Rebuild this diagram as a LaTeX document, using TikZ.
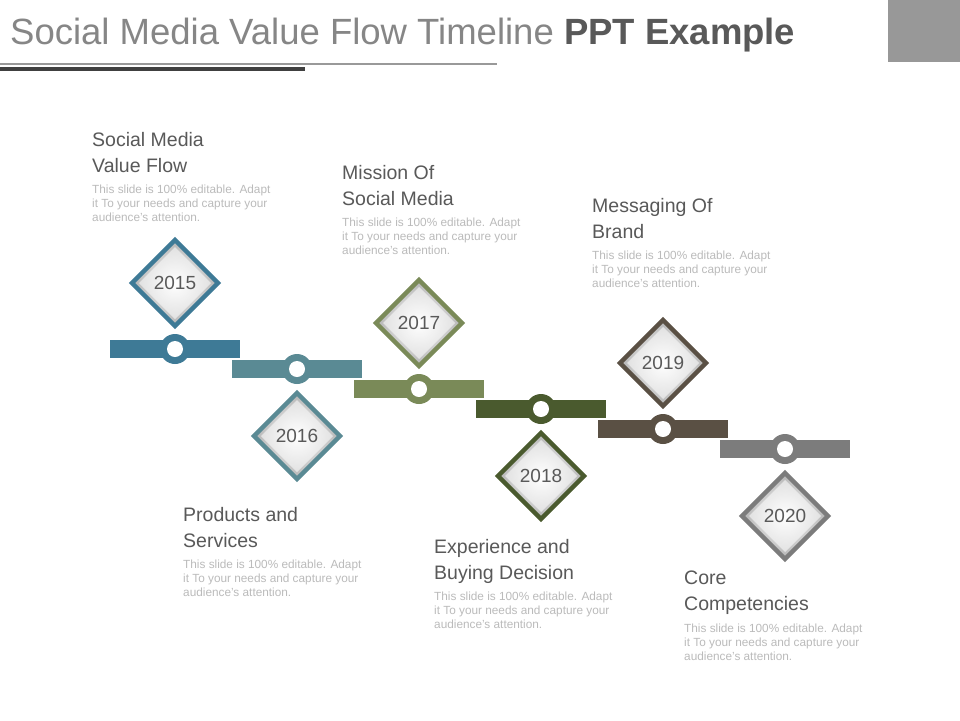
\documentclass[tikz,border=0pt]{standalone}
\usepackage{fontspec}
\setmainfont{Liberation Sans}
\definecolor{c1}{HTML}{3E7A96}
\definecolor{c2}{HTML}{5A8A94}
\definecolor{c3}{HTML}{7A8A58}
\definecolor{c4}{HTML}{4A5A2E}
\definecolor{c5}{HTML}{5A5044}
\definecolor{c6}{HTML}{7C7C7C}
\definecolor{ttl}{HTML}{595959}
\definecolor{body}{HTML}{BBBBBB}
\tikzset{
  headtxt/.style={anchor=north west,align=left,text=ttl,font=\fontsize{19.5}{26}\selectfont,inner sep=0pt},
  bodytxt/.style={anchor=north west,align=left,text=body,font=\fontsize{11.8}{14}\selectfont,inner sep=0pt},
  yeartxt/.style={text=ttl,font=\fontsize{19}{20}\selectfont}
}
\newcommand{\bodytext}{This slide is 100\% editable. Adapt\\it To your needs and capture your\\audience's attention.}
\newcommand{\stepitem}[5]{%
  \fill[#4] (#2-65,#3-9) rectangle (#2+65,#3+9);
  \path[shading=radial,inner color=white,outer color=gray!60,draw=#4,line width=4.5pt]
    (#2,#3+#5-43) -- (#2+43,#3+#5) -- (#2,#3+#5+43) -- (#2-43,#3+#5) -- cycle;
  \fill[white,opacity=0.55] (#2,#3+#5-36) -- (#2+36,#3+#5) -- (#2,#3+#5+36) -- (#2-36,#3+#5) -- cycle;
  \node[yeartxt] (#1) at (#2,#3+#5) {#1};
  \fill[#4] (#2,#3) circle (15);
  \fill[white] (#2,#3) circle (8);
}
\begin{document}
\begin{tikzpicture}[x=1pt,y=-1pt]
\useasboundingbox (0,0) rectangle (960,720);
\fill[white] (0,0) rectangle (960,720);
\fill[gray!85!black!70] (888,0) rectangle (960,62);
\node[anchor=base west,inner sep=0pt,text=gray!95,font=\fontsize{36.5}{40}\selectfont] (title) at (10,44) {Social Media Value Flow Timeline \textcolor{ttl}{\textbf{PPT Example}}};
\draw[gray!80,line width=1.2pt] (0,64) -- (497,64);
\fill[black!75] (0,67) rectangle (305,71);
\stepitem{2015}{175}{349}{c1}{-66}
\stepitem{2016}{297}{369}{c2}{67}
\stepitem{2017}{419}{389}{c3}{-66}
\stepitem{2018}{541}{409}{c4}{67}
\stepitem{2019}{663}{429}{c5}{-66}
\stepitem{2020}{785}{449}{c6}{67}
\node[headtxt] (h1) at (92,132) {Social Media\\Value Flow};
\node[bodytxt] (b1) at (92,185) {\bodytext};
\node[headtxt] (h2) at (342,165) {Mission Of\\Social Media};
\node[bodytxt] (b2) at (342,218) {\bodytext};
\node[headtxt] (h3) at (592,198) {Messaging Of\\Brand};
\node[bodytxt] (b3) at (592,251) {\bodytext};
\node[headtxt] (h4) at (183,507) {Products and\\Services};
\node[bodytxt] (b4) at (183,560) {\bodytext};
\node[headtxt] (h5) at (434,539) {Experience and\\Buying Decision};
\node[bodytxt] (b5) at (434,592) {\bodytext};
\node[headtxt] (h6) at (684,571) {Core\\Competencies};
\node[bodytxt] (b6) at (684,624) {\bodytext};
\end{tikzpicture}
\end{document}
